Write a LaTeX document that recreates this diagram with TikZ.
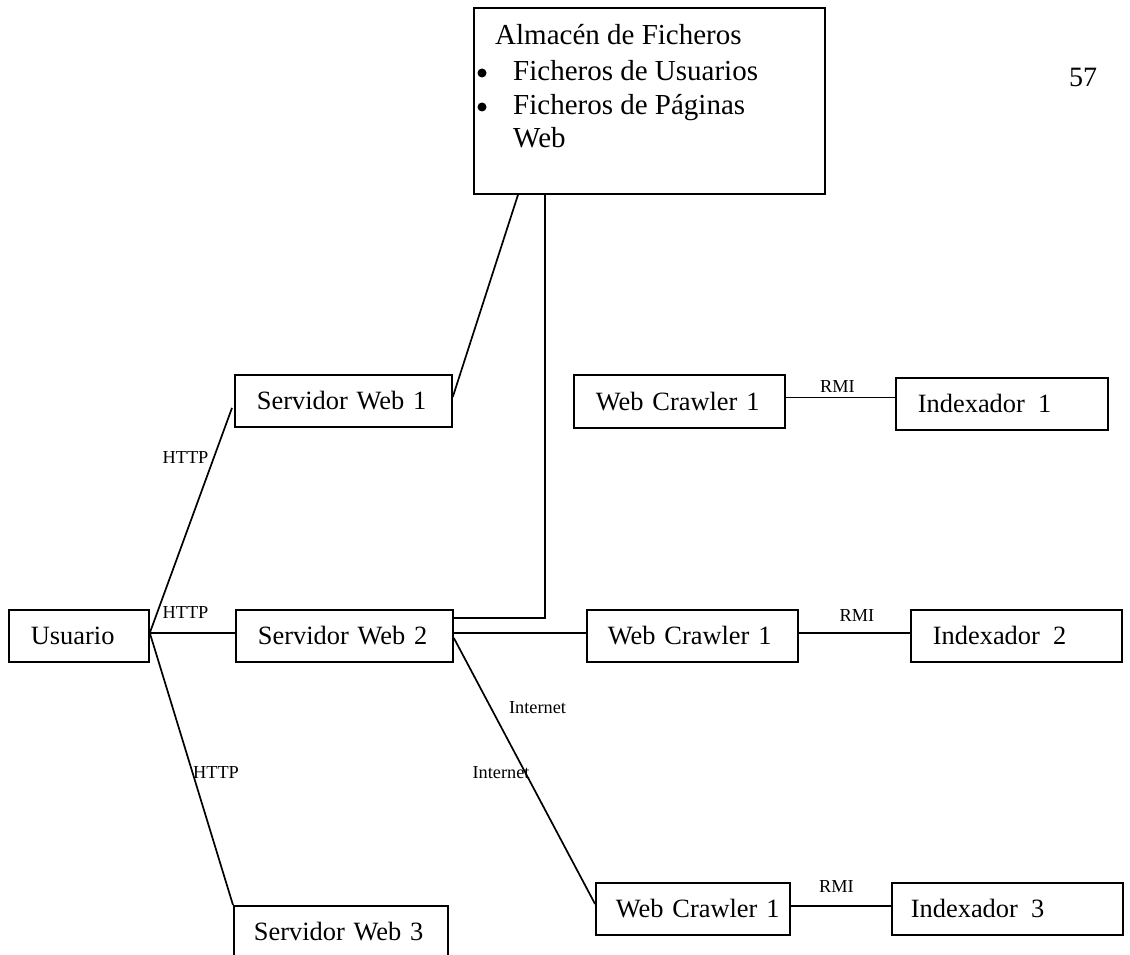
\documentclass[tikz,border=0pt]{standalone}
\usepackage{fontspec}
\setmainfont{Liberation Serif}
\usetikzlibrary{calc}
\begin{document}
\begin{tikzpicture}[x=1pt,y=-1pt,
  box/.style={draw, line width=1.8pt, inner xsep=0pt, inner ysep=0pt,
    text width=#1pt, minimum height=52pt, align=left, anchor=north west,
    font=\fontsize{26.4}{30}\selectfont},
  wire/.style={line width=1.7pt},
  tag/.style={font=\fontsize{18.3}{20}\selectfont, inner sep=0pt},
  big/.style={font=\fontsize{29}{34}\selectfont, inner sep=0pt, anchor=base west},
  dot/.style={circle, fill, inner sep=0pt, minimum size=9pt}]
\useasboundingbox (0,0) rectangle (1130,955);
\clip (0,0) rectangle (1130,955);

% file store
\node[draw, line width=1.8pt, minimum width=351pt, minimum height=186pt,
      inner sep=0pt, anchor=north west] (alm) at (473,7) {};
\node[big] (almt) at (495,45) {Almacén de Ficheros};
\node[dot] (b1) at (482,73) {};
\node[big] (almu) at (513,81) {Ficheros de Usuarios};
\node[dot] (b2) at (482,107) {};
\node[big] (almp) at (513,115) {Ficheros de Páginas};
\node[big] (almw) at (513,148) {Web};

% page number
\node[font=\fontsize{28}{30}\selectfont, inner sep=0pt, anchor=base] (pg) at (1083,87) {57};

% boxes
\node[box=140] (usu) at (8,609)   {\hspace*{22pt}Usuario};
\node[box=217] (sw1) at (234,374) {\hspace*{22pt}Servidor Web 1};
\node[box=217] (sw2) at (235,609) {\hspace*{22pt}Servidor Web 2};
\node[box=214] (sw3) at (233,905) {\hspace*{20pt}Servidor Web 3};
\node[box=211, minimum height=53pt] (wc1) at (573,374) {\hspace*{22pt}Web Crawler 1};
\node[box=212] (ix1) at (895,377) {\hspace*{22pt}Indexador\hspace{0.5em}1};
\node[box=211] (wc2) at (586,609) {\hspace*{21pt}Web Crawler 1};
\node[box=211] (ix2) at (910,609) {\hspace*{22pt}Indexador\hspace{0.5em}2};
\node[box=194] (wc3) at (595,882) {\hspace*{20pt}Web Crawler 1};
\node[box=231] (ix3) at (891,882) {\hspace*{19pt}Indexador\hspace{0.5em}3};

% user to web servers
\draw[wire] ([yshift=3pt]usu.east) -- ([yshift=-7pt,xshift=-2pt]sw1.west);
\draw[wire] ([yshift=3pt]usu.east) -- ([yshift=3pt]usu.east -| sw2.west);
\draw[wire] ([yshift=3pt]usu.east) -- (sw3.north west);

% web servers to file store
\draw[wire] ([yshift=4pt]sw1.east) -- ([xshift=45pt]alm.south west);
\draw[wire] ([xshift=72pt]alm.south west) |- ([yshift=18pt]sw2.east);

% web server 2 to crawlers
\draw[wire] ([yshift=3pt]sw2.east) -- ([yshift=3pt]sw2.east -| wc2.west);
\draw[wire] ([yshift=-2pt]sw2.east) -- ([yshift=5pt]wc3.west);

% crawlers to indexers
\draw[wire] ([yshift=4pt]wc1.east) -- ([yshift=4pt]wc1.east -| ix1.west);
\draw[wire] ([yshift=3pt]wc2.east) -- ([yshift=3pt]wc2.east -| ix2.west);
\draw[wire] ([yshift=3pt]wc3.east) -- ([yshift=3pt]wc3.east -| ix3.west);

% connector labels
\node[tag] (h1) at (185.5,458) {HTTP};
\node[tag] (h2) at (185.5,613) {HTTP};
\node[tag] (h3) at (216,773) {HTTP};
\node[tag] (r1) at (837.5,387) {RMI};
\node[tag] (r2) at (857,616) {RMI};
\node[tag] (r3) at (836.5,887) {RMI};
\node[tag] (i1) at (537.5,708) {Internet};
\node[tag] (i2) at (501,773) {Internet};
\end{tikzpicture}
\end{document}
